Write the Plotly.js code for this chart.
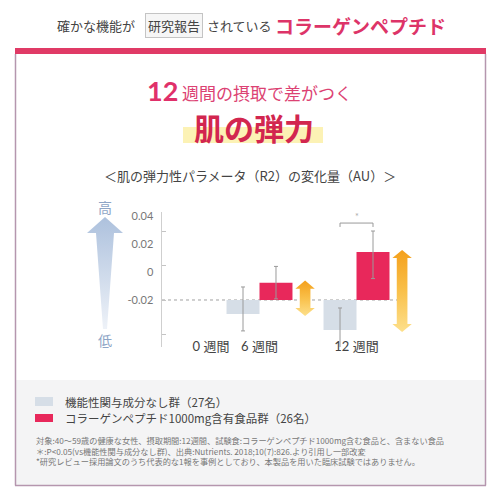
<!DOCTYPE html>
<html>
<head>
<meta charset="utf-8">
<script src="https://cdn.plot.ly/plotly-3.0.1.min.js"></script>
<style>html,body{margin:0;padding:0;background:#fff;}#chart{width:500px;height:500px;}</style>
</head>
<body>
<div id="chart"></div>
<script>
// ---- data ----
const weeks = ['0 週間', '6 週間', '12 週間'];
const seriesNames = ['機能性関与成分なし群（27名）', 'コラーゲンペプチド1000mg含有食品群（26名）'];
const baseline = -0.02;
const placeboVals = [null, -0.0300, -0.0414];
const placeboErrUp = [null, 0.0193, 0.0157];
const placeboErrDown = [null, 0.0121, 0.0157];
const collagenVals = [null, -0.0076, 0.0143];
const collagenErrUp = [null, 0.0116, 0.0150];
const collagenErrDown = [null, 0.0116, 0.0190];
const yTickVals = [-0.02, 0, 0.02, 0.04];
const yTickText = ['-0.02', '0', '0.02', '0.04'];
const axisTickVals = [-0.04, -0.02, 0, 0.02];
const sigWeek = '12 週間';
const sigLabel = '*';
const footnotes = [
  '対象:40～59歳の健康な女性、摂取期間:12週間、試験食:コラーゲンペプチド1000mg含む食品と、含まない食品',
  '＊:P<0.05(vs機能性関与成分なし群)、出典:Nutrients. 2018;10(7):826.より引用し一部改変',
  '*研究レビュー採用論文のうち代表的な1報を事例としており、本製品を用いた臨床試験ではありません。'
];

// ---- styling ----
const JP = '"Noto Sans CJK JP", "Noto Sans", sans-serif';
const NUM = 'Lato, "Noto Sans CJK JP", sans-serif';
const PINK = '#e0306a';
const RED = '#e8285b';
const GRAYBAR = '#d6dee7';
const spacer = '\u3000';
const catOrder = [weeks[0], weeks[1], spacer, weeks[2]];
const barW = 0.68;
const P = (px, py) => ({x: px / 500, y: 1 - py / 500});

const rel = (vals) => vals.map(v => v == null ? null : v - baseline);

const traces = [
  {
    type: 'bar', name: seriesNames[0], x: weeks, y: rel(placeboVals), base: baseline,
    width: barW, offset: -barW, marker: {color: GRAYBAR, line: {width: 0}},
    error_y: {type: 'data', symmetric: false, array: placeboErrUp, arrayminus: placeboErrDown, color: '#9a9a9a', thickness: 1, width: 2},
    hoverinfo: 'skip', showlegend: false
  },
  {
    type: 'bar', name: seriesNames[1], x: weeks, y: rel(collagenVals), base: baseline,
    width: barW, offset: 0, marker: {color: RED, line: {width: 0}},
    error_y: {type: 'data', symmetric: false, array: collagenErrUp, arrayminus: collagenErrDown, color: '#9a9a9a', thickness: 1, width: 2},
    hoverinfo: 'skip', showlegend: false
  },
  {type: 'scatter', x: [], y: [], yaxis: 'y2', xaxis: 'x', showlegend: false, hoverinfo: 'skip'}
];

// difference arrows (gradient), built from both series
const hh = 0.0058, hw = 0.2, sw = 0.11, ext = 0.0015;
weeks.forEach((w, i) => {
  if (placeboVals[i] == null || collagenVals[i] == null) return;
  const cx = catOrder.indexOf(w) + barW + 0.26;
  const top = Math.max(placeboVals[i], collagenVals[i]) + ext;
  const bot = Math.min(placeboVals[i], collagenVals[i]) - ext;
  const xs = [cx, cx + hw, cx + sw, cx + sw, cx + hw, cx, cx - hw, cx - sw, cx - sw, cx - hw, cx];
  const ys = [top, top - hh, top - hh, bot + hh, bot + hh, bot, bot + hh, bot + hh, top - hh, top - hh, top];
  traces.push({
    type: 'scatter', mode: 'lines', x: xs, y: ys, xaxis: 'x2', yaxis: 'y',
    fill: 'toself', line: {width: 0, color: 'rgba(0,0,0,0)'},
    fillgradient: {type: 'vertical', colorscale: [[0, '#fde08c'], [0.5, '#f9c04a'], [1, '#f4a01c']]},
    hoverinfo: 'skip', showlegend: false
  });
});

// significance bracket
const si = weeks.indexOf(sigWeek);
const sx = catOrder.indexOf(sigWeek);
const bracketY = collagenVals[si] + collagenErrUp[si] + 0.0057;
const legY = bracketY - 0.0028;

const shapes = [
  // pink top band and frame
  {type: 'rect', xref: 'paper', yref: 'paper', x0: P(15,0).x, x1: P(486,0).x, y0: P(0,48).y, y1: P(0,54).y, fillcolor: '#e03a66', line: {width: 0}, layer: 'below'},
  {type: 'rect', xref: 'paper', yref: 'paper', x0: P(16,0).x, x1: P(485,0).x, y0: P(0,380).y, y1: P(0,485).y, fillcolor: '#f4f4f5', line: {width: 0}, layer: 'below'},
  {type: 'line', xref: 'paper', yref: 'paper', x0: P(15.5,0).x, x1: P(15.5,0).x, y0: P(0,54).y, y1: P(0,485.5).y, line: {color: '#b596ae', width: 1.5}, layer: 'below'},
  {type: 'line', xref: 'paper', yref: 'paper', x0: P(485.5,0).x, x1: P(485.5,0).x, y0: P(0,54).y, y1: P(0,485.5).y, line: {color: '#b596ae', width: 1.5}, layer: 'below'},
  {type: 'line', xref: 'paper', yref: 'paper', x0: P(15,0).x, x1: P(486,0).x, y0: P(0,485.5).y, y1: P(0,485.5).y, line: {color: '#b596ae', width: 1.5}, layer: 'below'},
  // yellow highlight under title
  {type: 'rect', xref: 'paper', yref: 'paper', x0: P(183,0).x, x1: P(323,0).x, y0: P(0,143).y, y1: P(0,127).y, fillcolor: '#fcf0a8', opacity: 0.85, line: {width: 0}, layer: 'below'},
  // baseline dotted line
  {type: 'line', xref: 'x domain', yref: 'y', x0: 0, x1: 0.877, y0: baseline, y1: baseline, line: {color: '#a0a0a0', width: 1, dash: 'dot'}, layer: 'below'},
  // bracket
  {type: 'line', xref: 'x2', yref: 'y', x0: sx - barW / 2, x1: sx + barW / 2, y0: bracketY, y1: bracketY, line: {color: '#9a9a9a', width: 1}},
  {type: 'line', xref: 'x2', yref: 'y', x0: sx - barW / 2, x1: sx - barW / 2, y0: bracketY, y1: legY, line: {color: '#9a9a9a', width: 1}},
  {type: 'line', xref: 'x2', yref: 'y', x0: sx + barW / 2, x1: sx + barW / 2, y0: bracketY, y1: legY, line: {color: '#9a9a9a', width: 1}},
  // legend swatches
  {type: 'rect', xref: 'paper', yref: 'paper', x0: P(35,0).x, x1: P(53,0).x, y0: P(0,406).y, y1: P(0,397).y, fillcolor: GRAYBAR, line: {width: 0}},
  {type: 'rect', xref: 'paper', yref: 'paper', x0: P(35,0).x, x1: P(53,0).x, y0: P(0,422).y, y1: P(0,414).y, fillcolor: RED, line: {width: 0}}
];

function ann(text, px, py, size, color, opts) {
  const p = P(px, py);
  return Object.assign({xref: 'paper', yref: 'paper', x: p.x, y: p.y, text: text, showarrow: false,
    xanchor: 'center', yanchor: 'middle', font: {family: JP, size: size, color: color}}, opts || {});
}

const annotations = [
  ann('確かな機能が', 96, 25, 13, '#444'),
  ann('研究報告', 173.5, 25, 13, '#444', {bordercolor: '#c4c4c4', borderwidth: 1, borderpad: 2, bgcolor: '#f6f6f6'}),
  ann('されている', 239.5, 25, 13, '#444'),
  ann('<b>コラーゲンペプチド</b>', 360, 25, 19, '#dd3468'),
  ann('<b>12</b>', 162.5, 91, 27, PINK, {font: {family: NUM, size: 27, color: PINK}}),
  ann('週間の摂取で差がつく', 266.5, 93, 17, '#dc4273'),
  ann('<b>肌の弾力</b>', 253.5, 127, 30, '#d2264f'),
  ann('＜肌の弾力性パラメータ（R2）の変化量（AU）＞', 250, 175, 13, '#444'),
  ann('高', 105, 207, 14, '#8ea5c6'),
  ann('低', 105, 340, 14, '#8ea5c6'),
  ann(seriesNames[0], 63, 402, 11.5, '#444', {xanchor: 'left'}),
  ann(seriesNames[1], 63, 418, 11.5, '#444', {xanchor: 'left'}),
  ann(footnotes.join('<br>'), 34, 450, 8.2, '#777', {xanchor: 'left', align: 'left'}),
  {xref: 'x2', yref: 'y', x: sx, y: bracketY + 0.005, text: sigLabel, showarrow: false, font: {family: NUM, size: 9, color: '#aaa'}}
];

const arrowSvg = '<svg xmlns="http://www.w3.org/2000/svg" width="36" height="112" viewBox="0 0 36 112">' +
  '<defs><linearGradient id="g" x1="0" y1="0" x2="0" y2="1"><stop offset="0" stop-color="#adc1dd"/><stop offset="1" stop-color="#eef2f8"/></linearGradient></defs>' +
  '<path d="M18 0 L36 16 L27 16 L20 112 L16 112 L9 16 L0 16 Z" fill="url(#g)"/></svg>';

const xRange = [-1.01, 4.515];
const layout = {
  width: 500, height: 500,
  margin: {l: 0, r: 0, t: 0, b: 0},
  paper_bgcolor: '#ffffff', plot_bgcolor: 'rgba(0,0,0,0)',
  barmode: 'overlay', showlegend: false,
  xaxis: {
    type: 'category', categoryorder: 'array', categoryarray: catOrder,
    domain: [0.324, 0.86], range: xRange, anchor: 'free', position: 0.326,
    showline: false, showgrid: false, zeroline: false, ticks: '',
    tickfont: {family: NUM, size: 13, color: '#444'}, fixedrange: true
  },
  xaxis2: {overlaying: 'x', range: xRange, visible: false, anchor: 'y', fixedrange: true},
  yaxis: {
    domain: [0.306, 0.576], range: [-0.0536, 0.0429], anchor: 'x',
    tickvals: yTickVals, ticktext: yTickText, ticks: '',
    showline: true, linecolor: '#cfcfcf', linewidth: 1.5,
    showgrid: false, zeroline: false, ticklabelstandoff: 5,
    tickfont: {family: NUM, size: 11, color: '#777'}, fixedrange: true
  },
  yaxis2: {
    overlaying: 'y', anchor: 'x', side: 'left', range: [-0.0474, 0.0313],
    tickvals: axisTickVals, ticks: 'inside', ticklen: 4, tickcolor: '#c4c4c4', tickwidth: 1,
    showticklabels: false, showline: false, showgrid: false, zeroline: false, fixedrange: true
  },
  shapes: shapes,
  annotations: annotations,
  images: [{
    source: 'data:image/svg+xml;charset=utf-8,' + encodeURIComponent(arrowSvg),
    xref: 'paper', yref: 'paper', x: 87 / 500, y: 1 - 217 / 500, sizex: 36 / 500, sizey: 112 / 500,
    xanchor: 'left', yanchor: 'top', sizing: 'stretch', layer: 'above'
  }]
};

Plotly.newPlot('chart', traces, layout, {displayModeBar: false, staticPlot: true});
</script>
</body>
</html>
